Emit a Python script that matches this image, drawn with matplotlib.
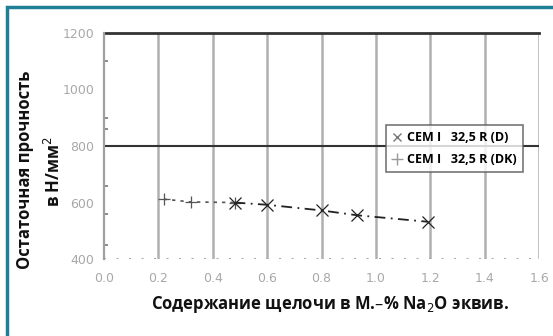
import matplotlib.pyplot as plt
from matplotlib.patches import Rectangle
from matplotlib.lines import Line2D

# values
alkali_d = [0.48, 0.60, 0.80, 0.93, 1.19]
strength_d = [600, 592, 572, 555, 532]
alkali_dk = [0.22, 0.32, 0.48]
strength_dk = [612, 602, 600]
label_d = 'CEM I   32,5 R (D)'
label_dk = 'CEM I   32,5 R (DK)'
xticks = [0.0, 0.2, 0.4, 0.6, 0.8, 1.0, 1.2, 1.4, 1.6]
yticks = [400, 600, 800, 1000, 1200]
yminor = [450, 560, 660, 860, 900, 1100]

fig = plt.figure(figsize=(5.53, 3.36), dpi=100)
fig.patches.append(Rectangle((7 / 553, -0.05), 1.1, 1 - 7 / 336 + 0.05, transform=fig.transFigure,
                             fill=False, edgecolor='#1f7f95', linewidth=2.5))

ax = fig.add_axes([0.188, 0.229, 0.787, 0.673])
ax.set_xlim(0, 1.6)
ax.set_ylim(400, 1200)

for x in xticks[1:]:
    ax.axvline(x, color='#b0b0b0', linewidth=1.8, zorder=1)
ax.axhline(800, color='#333333', linewidth=1.5, zorder=2)
ax.axhline(1200, color='#333333', linewidth=2, zorder=2, clip_on=False)
ax.axhline(400, color='#aaaaaa', linewidth=1.5, linestyle=(0, (1, 5)), zorder=2)

for s in ['top', 'right', 'bottom']:
    ax.spines[s].set_visible(False)
ax.spines['left'].set_color('#a0a0a0')
ax.spines['left'].set_linewidth(1.6)

ax.plot(alkali_dk, strength_dk, color='#555555', linestyle=(0, (2, 3)), linewidth=1.2,
        marker='+', markersize=8, markeredgewidth=0.9, zorder=3)
ax.plot(alkali_d, strength_d, color='#222222', linestyle=(0, (6, 3, 1, 3)), linewidth=1.3,
        marker='x', markersize=8, markeredgewidth=0.9, zorder=3)

ax.set_xticks(xticks)
ax.set_xticklabels([f'{v:.1f}' for v in xticks])
ax.set_yticks(yticks)
ax.set_yticks(yminor, minor=True)
ax.tick_params(axis='both', which='major', colors='#a8a8a8', labelcolor='#a8a8a8', labelsize=9, length=0)
ax.tick_params(axis='x', pad=9)
ax.tick_params(axis='y', pad=7)
ax.tick_params(axis='y', which='minor', direction='in', length=3, color='#777777', width=1.2)

ax.set_xlabel('Содержание щелочи в М.–% Na$_2$O эквив.', fontsize=12, fontweight='bold',
              family='Open Sans', color='#111111')
ax.xaxis.set_label_coords(0.52, -0.2)
ax.xaxis.label.set_va('center')
fig.text(0.046, 0.494, 'Остаточная прочность', rotation=90, ha='center', va='center',
         fontsize=12, fontweight='bold', family='Open Sans', color='#111111')
fig.text(0.097, 0.49, 'в Н/мм$^2$', rotation=90, ha='center', va='center',
         fontsize=12, fontweight='bold', family='Open Sans', color='#111111')

handles = [Line2D([], [], color='#777777', linestyle='none', marker='x', markersize=6),
           Line2D([], [], color='#999999', linestyle='none', marker='+', markersize=8)]
leg = ax.legend(handles, [label_d, label_dk], loc='upper left', bbox_to_anchor=(0.648, 0.593),
                frameon=True, fancybox=False, handlelength=0.8, handletextpad=0.4,
                borderpad=0.5, labelspacing=0.7, borderaxespad=0,
                prop={'family': 'Open Sans', 'weight': 'bold', 'size': 9})
leg.get_frame().set_edgecolor('#555555')
leg.get_frame().set_linewidth(1.2)
leg.set_zorder(5)

fig.savefig('out.png', dpi=100)
